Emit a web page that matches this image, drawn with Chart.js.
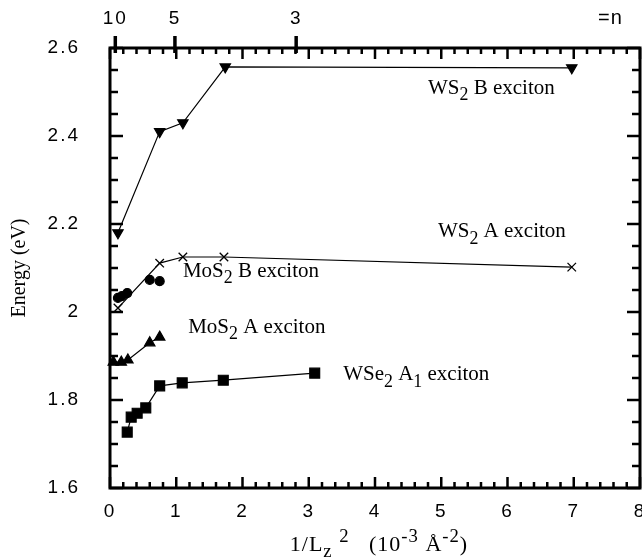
<!DOCTYPE html>
<html>
<head>
<meta charset="utf-8">
<script src="https://cdn.jsdelivr.net/npm/chart.js@4"></script>
<style>
  html, body { margin: 0; padding: 0; background: #fff; }
  #wrap { width: 642px; height: 558px; }
</style>
</head>
<body>
<div id="wrap"><canvas id="chart" width="642" height="558"></canvas></div>
<script>
// data (x = 1/Lz^2 in 1e-3 A^-2, y = energy in eV)
const ws2B_x = [0.12, 0.75, 1.10, 1.74, 6.97];
const ws2B_y = [2.18, 2.41, 2.43, 2.557, 2.555];
const ws2A_x = [0.12, 0.75, 1.10, 1.72, 6.97];
const ws2A_y = [2.009, 2.111, 2.125, 2.125, 2.102];
const mos2B_x = [0.12, 0.18, 0.26, 0.60, 0.75];
const mos2B_y = [2.032, 2.036, 2.043, 2.073, 2.07];
const mos2A_x = [0.05, 0.17, 0.27, 0.60, 0.75];
const mos2A_y = [1.886, 1.886, 1.891, 1.930, 1.943];
const wse2_x = [0.26, 0.32, 0.41, 0.54, 0.75, 1.09, 1.71, 3.09];
const wse2_y = [1.727, 1.761, 1.770, 1.782, 1.832, 1.839, 1.845, 1.861];

// top axis: number of layers n
const nTickPos = [0.08, 0.98, 2.81];
const nTickLabels = ["10", "5", "3"];

// series labels (text pieces, anchor in data units)
const seriesLabels = [
  { parts: [["WS"], ["2", "sub"], [" B exciton"]], x: 4.80, y: 2.509 },
  { parts: [["WS"], ["2", "sub"], [" A exciton"]], x: 4.95, y: 2.182 },
  { parts: [["MoS"], ["2", "sub"], [" B exciton"]], x: 1.10, y: 2.093 },
  { parts: [["MoS"], ["2", "sub"], [" A exciton"]], x: 1.18, y: 1.964 },
  { parts: [["WSe"], ["2", "sub"], [" A"], ["1", "sub"], [" exciton"]], x: 3.52, y: 1.857 }
];

const SERIF = "'Liberation Serif', 'DejaVu Serif', serif";
const SANS = "'Liberation Sans', Arial, sans-serif";

const pts = (xs, ys) => xs.map((x, i) => ({ x: x, y: ys[i] }));

function drawRich(ctx, parts, x, y, size, align) {
  const pieces = parts.map(p => {
    const kind = p[1] || "";
    const s = kind ? size * 0.85 : size;
    ctx.font = s + "px " + SERIF;
    return { t: p[0], s: s, dy: kind === "sub" ? size * 0.33 : kind === "sup" ? -size * 0.38 : 0, w: ctx.measureText(p[0]).width };
  });
  const total = pieces.reduce((a, p) => a + p.w, 0);
  let cx = align === "center" ? x - total / 2 : x;
  ctx.textAlign = "left";
  ctx.textBaseline = "middle";
  pieces.forEach(p => {
    ctx.font = p.s + "px " + SERIF;
    ctx.fillText(p.t, cx, y + p.dy);
    cx += p.w;
  });
}

const framePlugin = {
  id: "frame",
  beforeDraw(chart) { chart.ctx.letterSpacing = "2px"; },
  afterDraw(chart) {
    const ctx = chart.ctx;
    const a = chart.chartArea;
    const xs = chart.scales.x, ys = chart.scales.y;
    ctx.save();
    ctx.letterSpacing = "0px";
    ctx.strokeStyle = "#000";
    ctx.fillStyle = "#000";
    ctx.lineCap = "butt";

    // inward ticks, x every 0.2
    ctx.lineWidth = 2.5;
    for (let i = 0; i <= 40; i++) {
      const px = xs.getPixelForValue(i * 0.2);
      const len = i % 5 === 0 ? 11 : 6;
      ctx.beginPath();
      ctx.moveTo(px, a.bottom); ctx.lineTo(px, a.bottom - len);
      ctx.moveTo(px, a.top); ctx.lineTo(px, a.top + len);
      ctx.stroke();
    }
    // inward ticks, y every 0.05
    for (let i = 0; i <= 20; i++) {
      const py = ys.getPixelForValue(1.6 + i * 0.05);
      const len = i % 4 === 0 ? 13 : 8;
      ctx.beginPath();
      ctx.moveTo(a.left, py); ctx.lineTo(a.left + len, py);
      ctx.moveTo(a.right, py); ctx.lineTo(a.right - len, py);
      ctx.stroke();
    }
    // n marks on top
    ctx.lineWidth = 3.5;
    nTickPos.forEach(v => {
      const px = xs.getPixelForValue(v);
      ctx.beginPath();
      ctx.moveTo(px, a.top - 12); ctx.lineTo(px, a.top + 5);
      ctx.stroke();
    });
    // frame
    ctx.lineWidth = 3;
    ctx.beginPath();
    ctx.moveTo(a.left, a.top); ctx.lineTo(a.right, a.top);
    ctx.lineTo(a.right, a.bottom); ctx.lineTo(a.left, a.bottom);
    ctx.closePath();
    ctx.stroke();

    // series labels
    seriesLabels.forEach(l => {
      drawRich(ctx, l.parts, xs.getPixelForValue(l.x), ys.getPixelForValue(l.y), 21, "left");
    });

    // axis titles
    ctx.letterSpacing = "1px";
    drawRich(ctx, [["1/L"], ["z", "sub"], [" "], ["2", "sup"], ["   (10"], ["-3", "sup"], [" Å"], ["-2", "sup"], [")"]],
      (a.left + a.right) / 2 + 4, 545, 22, "center");
    ctx.letterSpacing = "0px";
    ctx.save();
    ctx.translate(20, (a.top + a.bottom) / 2);
    ctx.rotate(-Math.PI / 2);
    drawRich(ctx, [["Energy (eV)"]], 0, 0, 20, "center");
    ctx.restore();

    ctx.font = "20px " + SANS;
    ctx.letterSpacing = "1px";
    ctx.textAlign = "left";
    ctx.textBaseline = "middle";
    ctx.fillText("=n", 598, 18);
    ctx.restore();
  }
};

const base = { borderColor: "#000", backgroundColor: "#000", borderWidth: 1.2, pointBorderColor: "#000", clip: false };

const noSidePad = s => { s.paddingLeft = 0; s.paddingRight = 0; };

new Chart(document.getElementById("chart"), {
  type: "scatter",
  data: {
    datasets: [
      { ...base, label: "WS2 B exciton", data: pts(ws2B_x, ws2B_y), showLine: true,
        pointStyle: "triangle", rotation: 180, pointRadius: 6 },
      { ...base, label: "WS2 A exciton", data: pts(ws2A_x, ws2A_y), showLine: true,
        pointStyle: "crossRot", pointRadius: 6, pointBorderWidth: 1.3 },
      { ...base, label: "MoS2 B exciton", data: pts(mos2B_x, mos2B_y), showLine: false,
        pointStyle: "circle", pointRadius: 4.5 },
      { ...base, label: "MoS2 A exciton", data: pts(mos2A_x, mos2A_y), showLine: true,
        pointStyle: "triangle", pointRadius: 6 },
      { ...base, label: "WSe2 A1 exciton", data: pts(wse2_x, wse2_y), showLine: true,
        pointStyle: "rect", pointRadius: 7 }
    ]
  },
  options: {
    responsive: false,
    animation: false,
    layout: { autoPadding: false, padding: { right: 2, left: 0, top: 0, bottom: 0 } },
    plugins: { legend: { display: false }, tooltip: { enabled: false } },
    scales: {
      x: {
        type: "linear", position: "bottom", min: 0, max: 8,
        grid: { display: false, drawTicks: false },
        border: { display: false },
        ticks: { stepSize: 1, padding: 12, color: "#000", font: { family: SANS, size: 19 } },
        afterFit: s => { s.height = 70; noSidePad(s); }
      },
      x2: {
        type: "linear", position: "top", min: 0, max: 8,
        grid: { display: false, drawTicks: false },
        border: { display: false },
        afterBuildTicks: s => { s.ticks = nTickPos.map(v => ({ value: v })); },
        ticks: { padding: 18, color: "#000", font: { family: SANS, size: 19 },
          callback: (v, i) => nTickLabels[i] },
        afterFit: s => { s.height = 48; noSidePad(s); }
      },
      y: {
        type: "linear", position: "left", min: 1.6, max: 2.6,
        grid: { display: false, drawTicks: false },
        border: { display: false },
        ticks: { stepSize: 0.2, padding: 30, color: "#000", font: { family: SANS, size: 19 },
          callback: v => String(+v.toFixed(1)) },
        afterFit: s => { s.width = 110; s.paddingTop = 0; s.paddingBottom = 0; }
      }
    }
  },
  plugins: [framePlugin]
});
</script>
</body>
</html>
